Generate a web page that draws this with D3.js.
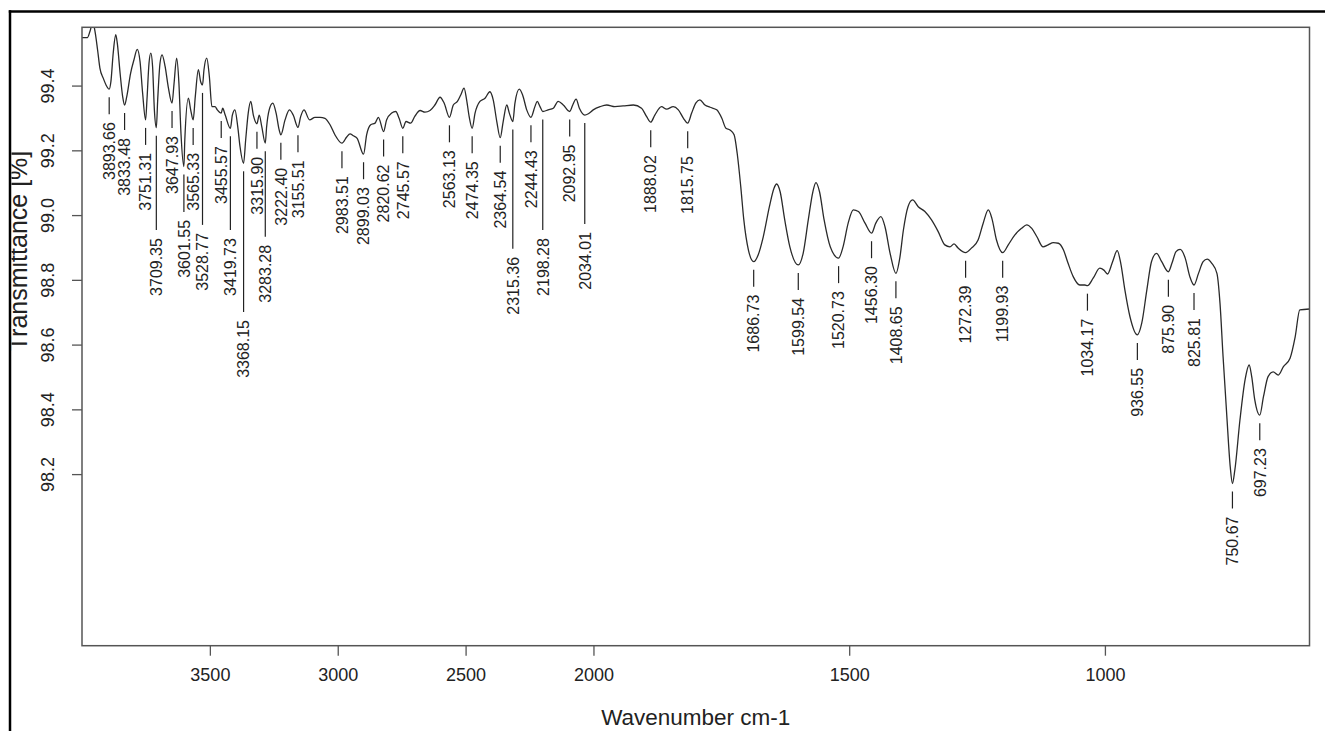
<!DOCTYPE html>
<html>
<head>
<meta charset="utf-8">
<script src="https://cdn.jsdelivr.net/npm/d3@7"></script>
<style>
  body { margin: 0; background: #fff; }
  svg { display: block; font-family: "Liberation Sans", Arial, Helvetica, sans-serif; }
</style>
</head>
<body>
<svg id="chart" width="1325" height="731"></svg>
<script>
// IR spectrum trace: wavenumber (cm-1) and transmittance (%)
const wavenumbers = [
  4000, 3979, 3969, 3958, 3949, 3939, 3930, 3917, 3906, 3893.66,
  3887, 3878, 3868, 3862, 3851, 3841, 3833.48, 3825, 3810, 3797,
  3784, 3773, 3763, 3751.31, 3746, 3738, 3731, 3724, 3717, 3709.35,
  3704, 3695, 3687, 3675, 3663, 3647.93, 3640, 3630, 3621, 3613,
  3601.55, 3598, 3584, 3575, 3565.33, 3557, 3545, 3536, 3528.77, 3523,
  3512, 3502, 3492, 3480, 3471, 3455.57, 3450, 3440, 3419.73, 3412,
  3402, 3391, 3382, 3368.15, 3360, 3350, 3340, 3330, 3315.90, 3307,
  3297, 3283.28, 3278, 3268, 3254, 3241, 3229, 3222.40, 3206, 3189,
  3174, 3155.51, 3145, 3132, 3110, 3089, 3069, 3050, 3030, 3011,
  2983.51, 2965, 2952, 2939, 2924, 2899.03, 2887, 2871, 2854, 2841,
  2820.62, 2809, 2789, 2773, 2760, 2745.57, 2733, 2715, 2698, 2678,
  2659, 2639, 2620, 2600, 2584, 2563.13, 2548, 2532, 2519, 2506,
  2496, 2486, 2474.35, 2463, 2444, 2424, 2405, 2392, 2378, 2364.54,
  2353, 2339, 2329, 2315.36, 2307, 2290, 2277, 2261, 2244.43, 2229,
  2220, 2209, 2198.28, 2177, 2157, 2138, 2118, 2092.95, 2081, 2068,
  2055, 2034.01, 2020, 2001, 1987, 1974, 1958, 1942, 1922, 1906,
  1896, 1888.02, 1880, 1867, 1857, 1844, 1834, 1824, 1815.75, 1808,
  1800, 1792, 1782, 1772, 1759, 1749, 1741, 1733, 1725, 1719,
  1712, 1706, 1697, 1686.73, 1678, 1668, 1656, 1647, 1642, 1635,
  1626, 1616, 1599.54, 1590, 1580, 1571, 1565, 1558, 1549, 1537,
  1520.73, 1512, 1502, 1492, 1482, 1469, 1456.30, 1448, 1438, 1430,
  1420, 1408.65, 1401, 1394, 1385, 1376, 1365, 1352, 1339, 1326,
  1313, 1303, 1295, 1287, 1272.39, 1261, 1248, 1238, 1228, 1221,
  1212, 1199.93, 1189, 1176, 1163, 1153, 1143, 1133, 1121, 1111,
  1101, 1091, 1081, 1072, 1062, 1049, 1039, 1034.17, 1023, 1010,
  1002, 995, 985, 976, 969, 961, 951, 936.55, 928, 918,
  909, 899, 889, 875.90, 869, 861, 853, 843, 834, 825.81,
  817, 808, 800, 791, 781, 775, 769, 762, 755, 750.67,
  746, 736, 726, 718, 713, 707, 697.23, 690, 681, 671,
  661, 651, 638, 628, 619, 600
];
const transmittance = [
  99.548, 99.548, 99.567, 99.595, 99.567, 99.510, 99.454, 99.423, 99.402, 99.389,
  99.412, 99.500, 99.557, 99.531, 99.438, 99.366, 99.340, 99.366, 99.438, 99.479,
  99.512, 99.474, 99.377, 99.294, 99.356, 99.469, 99.500, 99.459, 99.325, 99.270,
  99.356, 99.469, 99.495, 99.459, 99.397, 99.346, 99.407, 99.485, 99.407, 99.253,
  99.150, 99.232, 99.361, 99.325, 99.294, 99.366, 99.449, 99.412, 99.402, 99.449,
  99.485, 99.428, 99.335, 99.335, 99.325, 99.315, 99.330, 99.309, 99.268, 99.309,
  99.325, 99.273, 99.211, 99.160, 99.232, 99.315, 99.351, 99.309, 99.282, 99.309,
  99.273, 99.222, 99.273, 99.325, 99.346, 99.315, 99.263, 99.248, 99.294, 99.325,
  99.309, 99.271, 99.304, 99.325, 99.294, 99.302, 99.302, 99.299, 99.279, 99.248,
  99.222, 99.241, 99.251, 99.245, 99.237, 99.188, 99.248, 99.279, 99.284, 99.302,
  99.258, 99.294, 99.315, 99.320, 99.299, 99.268, 99.289, 99.284, 99.306, 99.323,
  99.318, 99.323, 99.340, 99.364, 99.346, 99.302, 99.340, 99.351, 99.371, 99.392,
  99.356, 99.304, 99.268, 99.315, 99.351, 99.361, 99.381, 99.356, 99.289, 99.239,
  99.289, 99.340, 99.315, 99.289, 99.346, 99.389, 99.371, 99.325, 99.302, 99.335,
  99.351, 99.335, 99.320, 99.325, 99.330, 99.351, 99.340, 99.320, 99.340, 99.358,
  99.330, 99.309, 99.313, 99.325, 99.335, 99.340, 99.335, 99.337, 99.340, 99.330,
  99.304, 99.287, 99.309, 99.335, 99.327, 99.335, 99.325, 99.299, 99.284, 99.315,
  99.346, 99.356, 99.340, 99.333, 99.325, 99.299, 99.268, 99.263, 99.248, 99.191,
  99.088, 98.985, 98.892, 98.856, 98.877, 98.933, 99.026, 99.083, 99.096, 99.072,
  98.985, 98.902, 98.846, 98.882, 98.985, 99.072, 99.100, 99.072, 98.985, 98.902,
  98.867, 98.902, 98.975, 99.016, 99.011, 98.975, 98.944, 98.975, 98.995, 98.964,
  98.882, 98.820, 98.868, 98.954, 99.026, 99.047, 99.026, 99.011, 98.985, 98.949,
  98.908, 98.902, 98.911, 98.898, 98.884, 98.898, 98.923, 98.975, 99.016, 98.990,
  98.923, 98.884, 98.908, 98.939, 98.959, 98.970, 98.959, 98.933, 98.902, 98.908,
  98.915, 98.913, 98.892, 98.851, 98.810, 98.784, 98.784, 98.782, 98.805, 98.836,
  98.830, 98.818, 98.856, 98.890, 98.851, 98.769, 98.686, 98.630, 98.666, 98.769,
  98.856, 98.882, 98.856, 98.825, 98.851, 98.887, 98.894, 98.867, 98.810, 98.784,
  98.820, 98.856, 98.864, 98.851, 98.820, 98.728, 98.563, 98.388, 98.223, 98.171,
  98.212, 98.367, 98.491, 98.537, 98.501, 98.429, 98.382, 98.439, 98.501, 98.516,
  98.506, 98.532, 98.558, 98.624, 98.707, 98.710
];

// Picked band positions (cm-1)
const peakWavenumbers = [
  3893.66, 3833.48, 3751.31, 3709.35, 3647.93, 3601.55, 3565.33, 3528.77,
  3455.57, 3419.73, 3368.15, 3315.90, 3283.28, 3222.40, 3155.51,
  2983.51, 2899.03, 2820.62, 2745.57, 2563.13, 2474.35, 2364.54, 2315.36,
  2244.43, 2198.28, 2092.95, 2034.01, 1888.02, 1815.75,
  1686.73, 1599.54, 1520.73, 1456.30, 1408.65, 1272.39, 1199.93,
  1034.17, 936.55, 875.90, 825.81, 750.67, 697.23
];

const xTickValues = [3500, 3000, 2500, 2000, 1500, 1000];
const yTickValues = [98.2, 98.4, 98.6, 98.8, 99.0, 99.2, 99.4];

// ---- layout ----
const W = 1325, H = 731;
const plot = { left: 82, right: 1309.5, top: 27.3, bottom: 645.7 };
const pw = plot.right - plot.left;
const yLimits = [97.67, 99.58];
const xLimits = [4000, 2000, 600];   // scale doubles below 2000 cm-1

// Bands whose labels hang lower to avoid neighbours (transmittance level of label end)
const hangingLabels = new Map([
  [3709.35, 98.929], [3601.55, 98.985], [3528.77, 98.945], [3419.73, 98.929],
  [3368.15, 98.676], [3283.28, 98.908], [2315.36, 98.871], [2198.28, 98.929],
  [2034.01, 98.948]
]);

const x = d3.scaleLinear()
  .domain(xLimits)
  .range([plot.left, plot.left + pw * 2000 / 4800, plot.right]);
const y = d3.scaleLinear().domain(yLimits).range([plot.bottom, plot.top]);
const spectrumAt = d3.scaleLinear().domain(wavenumbers).range(transmittance);

const svg = d3.select("#chart");
const ink = "#222";

svg.append("defs").append("clipPath").attr("id", "plotClip")
  .append("rect")
  .attr("x", plot.left).attr("y", plot.top)
  .attr("width", pw).attr("height", plot.bottom - plot.top);
svg.select("defs").append("clipPath").attr("id", "pageClip")
  .append("rect").attr("x", 11.5).attr("y", 12.5).attr("width", W).attr("height", H);

// spectrum
const points = wavenumbers.map((w, i) => [w, transmittance[i]]);
svg.append("path")
  .datum(points)
  .attr("clip-path", "url(#plotClip)")
  .attr("fill", "none")
  .attr("stroke", "#2a2a2a")
  .attr("stroke-width", 1.3)
  .attr("stroke-linejoin", "round")
  .attr("d", d3.line().x(d => x(d[0])).y(d => y(d[1])).curve(d3.curveMonotoneX));

// band labels
const fmtPeak = d3.format(".2f");
const peakG = svg.append("g");
peakWavenumbers.forEach(w => {
  const px = x(w);
  const py = y(spectrumAt(w));
  const textTop = hangingLabels.has(w) ? y(hangingLabels.get(w)) : py + 33;
  peakG.append("line")
    .attr("x1", px).attr("x2", px)
    .attr("y1", py + 8).attr("y2", textTop - 8)
    .attr("stroke", ink).attr("stroke-width", 1.2);
  peakG.append("text")
    .attr("transform", `translate(${px},${textTop}) rotate(-90)`)
    .attr("text-anchor", "end")
    .attr("dy", "0.36em")
    .attr("font-size", 16)
    .attr("fill", ink)
    .text(fmtPeak(w));
});

// frame of the plotting region
svg.append("rect")
  .attr("x", plot.left).attr("y", plot.top)
  .attr("width", pw).attr("height", plot.bottom - plot.top)
  .attr("fill", "none").attr("stroke", "#555").attr("stroke-width", 1.5);

// x axis
const xAxis = svg.append("g").attr("transform", `translate(0,${plot.bottom})`)
  .call(d3.axisBottom(x).tickValues(xTickValues).tickSize(10).tickPadding(13).tickFormat(d3.format("d")));
xAxis.select(".domain").remove();
xAxis.selectAll(".tick line").attr("stroke", "#555").attr("stroke-width", 1.3);
xAxis.selectAll(".tick text")
  .attr("font-size", 18).attr("fill", ink)
  .attr("font-family", "Liberation Sans, Arial, sans-serif");

// y axis (labels parallel to the axis)
const yAxis = svg.append("g").attr("transform", `translate(${plot.left},0)`)
  .call(d3.axisLeft(y).tickValues(yTickValues).tickSize(10).tickFormat(d3.format(".1f")));
yAxis.select(".domain").remove();
yAxis.selectAll(".tick line").attr("stroke", "#555").attr("stroke-width", 1.3);
yAxis.selectAll(".tick text")
  .attr("font-size", 18).attr("fill", ink)
  .attr("font-family", "Liberation Sans, Arial, sans-serif")
  .attr("x", null).attr("dy", null)
  .attr("text-anchor", "middle")
  .attr("transform", "translate(-28,0) rotate(-90)");

// axis titles
svg.append("text")
  .attr("x", (plot.left + plot.right) / 2).attr("y", 725)
  .attr("text-anchor", "middle")
  .attr("font-size", 22.5).attr("fill", ink)
  .text("Wavenumber cm-1");

svg.append("g").attr("clip-path", "url(#pageClip)")
  .append("text")
  .attr("transform", "translate(26.5,251) rotate(-90)")
  .attr("text-anchor", "middle")
  .attr("font-size", 25).attr("fill", ink)
  .text("Transmittance [%]");

// outer border
svg.append("line").attr("x1", 8.8).attr("x2", W).attr("y1", 11.5).attr("y2", 11.5)
  .attr("stroke", "#000").attr("stroke-width", 2.5);
svg.append("line").attr("x1", 10).attr("x2", 10).attr("y1", 10.3).attr("y2", H)
  .attr("stroke", "#000").attr("stroke-width", 2.5);
</script>
</body>
</html>
